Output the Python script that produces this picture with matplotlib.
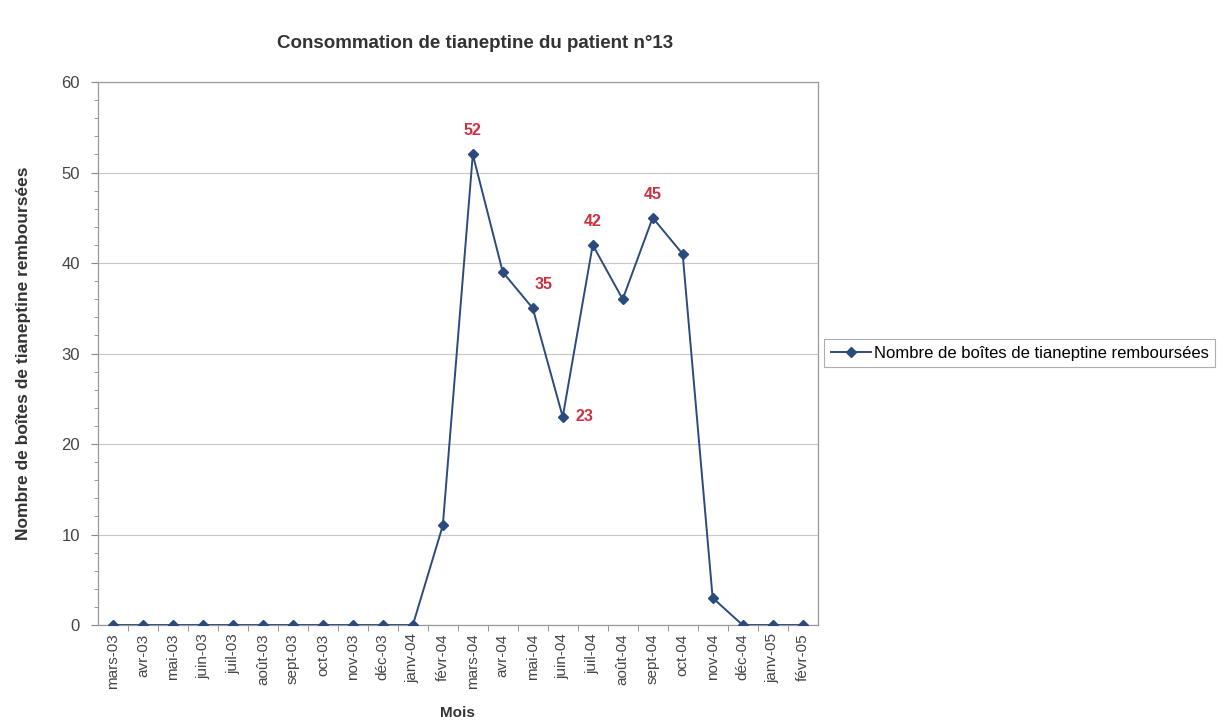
import numpy as np
import matplotlib.pyplot as plt

plt.rcParams['font.family'] = ['Liberation Sans', 'DejaVu Sans']

mois = ['mars-03', 'avr-03', 'mai-03', 'juin-03', 'juil-03', 'août-03', 'sept-03',
        'oct-03', 'nov-03', 'déc-03', 'janv-04', 'févr-04', 'mars-04', 'avr-04',
        'mai-04', 'juin-04', 'juil-04', 'août-04', 'sept-04', 'oct-04', 'nov-04',
        'déc-04', 'janv-05', 'févr-05']
boites = [0, 0, 0, 0, 0, 0, 0, 0, 0, 0, 0, 11, 52, 39, 35, 23, 42, 36, 45, 41, 3, 0, 0, 0]

# points annotés en rouge : (mois, décalage en points)
annotes = {'mars-04': (0, 17), 'mai-04': (8, 17), 'juin-04': (9, 0),
           'juil-04': (0, 17), 'sept-04': (0, 17)}

fig = plt.figure(figsize=(12.3, 7.24), dpi=100)
ax = fig.add_axes([0.0797, 0.1367, 0.585, 0.75])

x = np.arange(len(mois))
ax.plot(x, boites, color='#2b4a7e', lw=1.4, marker='D', ms=5.5,
        label='Nombre de boîtes de tianeptine remboursées', zorder=3)

for m, (dx, dy) in annotes.items():
    i = mois.index(m)
    ax.annotate(str(boites[i]), (x[i], boites[i]), xytext=(dx, dy),
                textcoords='offset points', ha='left' if dx > 8 else 'center',
                va='center', color='#cc3040', fontsize=11.5, fontweight='bold')

ax.set_xlim(-0.5, len(mois) - 0.5)
ax.set_ylim(0, 60)
ax.set_yticks(range(0, 61, 10))
ax.set_yticks(range(0, 61, 2), minor=True)
ax.set_xticks(x)
ax.set_xticklabels(mois, rotation=90, fontsize=11, color='#444444')
ax.set_xticks(x[:-1] + 0.5, minor=True)
ax.tick_params(axis='x', which='major', length=0, pad=6)
ax.tick_params(axis='x', which='minor', length=4, color='#888888')
ax.tick_params(axis='y', which='major', length=5, labelsize=12, labelcolor='#444444',
               color='#888888', pad=8)
ax.tick_params(axis='y', which='minor', length=3, color='#888888')
ax.grid(axis='y', color='#c8c8c8', lw=0.8)
ax.set_axisbelow(True)
for s in ax.spines.values():
    s.set_color('#999999')
    s.set_linewidth(0.9)

ax.set_xlabel('Mois', fontsize=11, fontweight='bold', color='#333333', labelpad=12)
ax.set_ylabel('Nombre de boîtes de tianeptine remboursées', fontsize=12.5,
              fontweight='bold', color='#333333', labelpad=22)
fig.suptitle('Consommation de tianeptine du patient n°13', x=0.386, y=0.952,
             fontsize=13.5, fontweight='bold', color='#333333')

leg = ax.legend(loc='center', bbox_to_anchor=(0.829, 0.512),
                bbox_transform=fig.transFigure, fontsize=12, frameon=True,
                fancybox=False, handlelength=2.4, borderpad=0.4, handletextpad=0.2)
leg.get_frame().set_edgecolor('#999999')
leg.get_frame().set_linewidth(0.8)

fig.savefig('out.png', dpi=100)
